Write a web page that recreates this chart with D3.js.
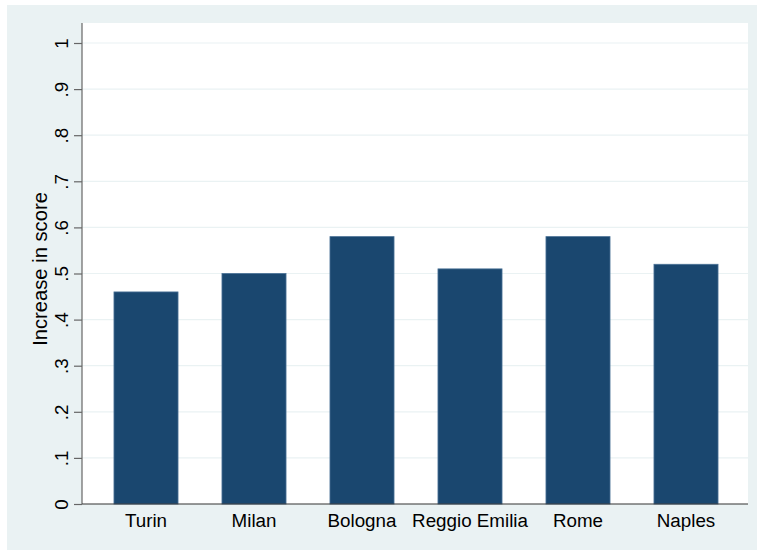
<!DOCTYPE html>
<html><head><meta charset="utf-8">
<script src="https://cdn.jsdelivr.net/npm/d3@7"></script>
<style>body{margin:0;background:#fff;}svg{display:block;font-family:"Liberation Sans",Arial,Helvetica,sans-serif;}</style>
</head><body>
<script>
const categories = ["Turin","Milan","Bologna","Reggio Emilia","Rome","Naples"];
const values = [0.46,0.50,0.58,0.51,0.58,0.52];
const yTicks = [0,0.1,0.2,0.3,0.4,0.5,0.6,0.7,0.8,0.9,1];
const yTickLabels = ["0",".1",".2",".3",".4",".5",".6",".7",".8",".9","1"];
const yTitle = "Increase in score";

const W=757,H=550;
const svg=d3.select("body").append("svg").attr("width",W).attr("height",H);
svg.append("rect").attr("x",7).attr("y",5).attr("width",W-7).attr("height",H-5).attr("fill","#eaf2f3");
const L=82,R=748,T=23,B=504;
svg.append("rect").attr("x",L).attr("y",T).attr("width",R-L).attr("height",B-T).attr("fill","#fff");

const y=d3.scaleLinear().domain([0,1]).range([B,43]);
const x=d3.scaleBand().domain(categories).range([92,740]).paddingInner(0.407).paddingOuter(0.2035);

// gridlines
svg.append("g").selectAll("line").data(yTicks.filter(d=>d>0)).join("line")
  .attr("x1",L).attr("x2",R).attr("y1",d=>y(d)).attr("y2",d=>y(d))
  .attr("stroke","#eaf2f3").attr("stroke-width",1.2);

// bars
svg.append("g").selectAll("rect").data(values).join("rect")
  .attr("x",(d,i)=>x(categories[i])).attr("width",x.bandwidth())
  .attr("y",d=>y(d)).attr("height",d=>B-y(d))
  .attr("fill","#1a476f").attr("stroke","#4a7196").attr("stroke-width",0.8);

// y axis
const yAxis=d3.axisLeft(y).tickValues(yTicks).tickFormat((d,i)=>yTickLabels[i]).tickSize(8).tickPadding(0);
const ga=svg.append("g").attr("transform",`translate(${L},0)`).call(yAxis);
ga.select(".domain").attr("stroke","#666").attr("stroke-width",1.2).attr("d",`M0,${T}V${B}`);
ga.selectAll(".tick line").attr("stroke","#666").attr("stroke-width",1.2);
ga.selectAll(".tick text").attr("transform","translate(-21,0) rotate(-90)").attr("x",0).attr("dy","0.35em")
  .attr("text-anchor","middle").attr("font-size",18.8).attr("fill","#000")
  .style("font-family","'Liberation Sans',Arial,sans-serif");

// x axis
const xAxis=d3.axisBottom(x).tickSize(0).tickPadding(10);
const gx=svg.append("g").attr("transform",`translate(0,${B})`).call(xAxis);
gx.select(".domain").attr("stroke","#333").attr("stroke-width",1.2).attr("d",`M${L},0H${R}`);
gx.selectAll(".tick text").attr("font-size",18.8).attr("fill","#000")
  .style("font-family","'Liberation Sans',Arial,sans-serif");

svg.append("text").attr("transform",`translate(40,269) rotate(-90)`)
  .attr("text-anchor","middle").attr("dy","0.35em").attr("font-size",20.2).text(yTitle);
</script>
</body></html>
